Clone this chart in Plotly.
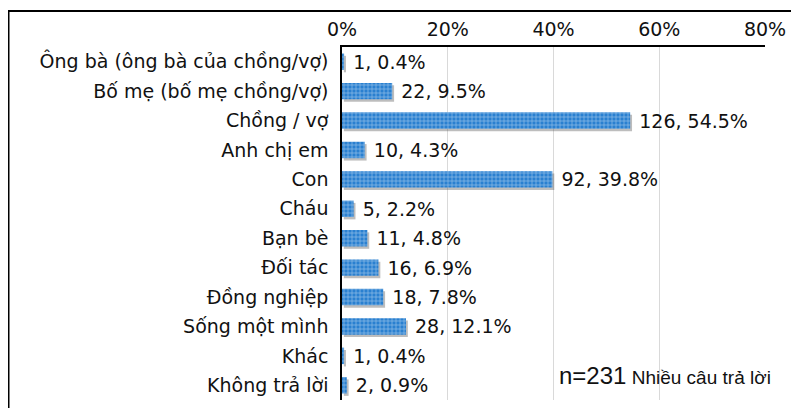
import plotly.graph_objects as go

categories = ["Ông bà (ông bà của chồng/vợ)", "Bố mẹ (bố mẹ chồng/vợ)", "Chồng / vợ",
              "Anh chị em", "Con", "Cháu", "Bạn bè", "Đối tác", "Đồng nghiệp",
              "Sống một mình", "Khác", "Không trả lời"]
counts = [1, 22, 126, 10, 92, 5, 11, 16, 18, 28, 1, 2]
percents = [0.4, 9.5, 54.5, 4.3, 39.8, 2.2, 4.8, 6.9, 7.8, 12.1, 0.4, 0.9]
tick_values = [0, 20, 40, 60, 80]
tick_labels = ["0%", "20%", "40%", "60%", "80%"]
note_n = "n=231"
note_text = "Nhiều câu trả lời"

labels = [f"\u00a0{c}, {p}%" for c, p in zip(counts, percents)]
FONT = "DejaVu Sans"
W = 0.56

# the page adds an 8px body margin, so the figure is 8px smaller and shifted
L, R, T, B = 334, 34, 39, 8
FW, FH = 791, 400
PW, PH = FW - L - R, FH - T - B

fig = go.Figure()
# drop shadow
fig.add_trace(go.Bar(
    y=categories, x=percents, base=0.35, orientation="h",
    width=W, offset=-W / 2 + 0.08,
    marker=dict(color="rgba(90,90,90,0.4)", line=dict(width=0)),
    hoverinfo="skip", showlegend=False,
))
fig.add_trace(go.Bar(
    y=categories, x=percents, orientation="h", width=W, offset=-W / 2,
    marker=dict(color="#2a80d0", line=dict(width=0),
                pattern=dict(shape="+", fgcolor="white", bgcolor="#2a80d0",
                             size=4, solidity=0.3)),
    text=labels, textposition="outside", cliponaxis=False, constraintext="none",
    textfont=dict(family=FONT, size=19, color="#111111"),
    showlegend=False,
))

fig.update_layout(
    width=FW, height=FH,
    margin=dict(l=L, r=R, t=T, b=B),
    paper_bgcolor="white", plot_bgcolor="white",
    barmode="overlay",
    font=dict(family=FONT, size=19, color="#111111"),
    xaxis=dict(side="top", range=[0, 80], tickvals=tick_values, ticktext=tick_labels,
               showgrid=True, gridcolor="#d9d9d9", gridwidth=1, zeroline=False,
               showline=True, linecolor="black", linewidth=1.5, ticks="",
               ticklabelstandoff=2,
               tickfont=dict(family=FONT, size=19, color="#111111")),
    yaxis=dict(autorange="reversed", showline=True, linecolor="black", linewidth=1.5,
               ticks="", showgrid=False, ticklabelstandoff=8,
               tickfont=dict(family=FONT, size=19, color="#111111")),
    shapes=[dict(type="rect", xref="paper", yref="paper",
                 x0=(0.5 - L) / PW, x1=1.2, y0=-0.2, y1=(PH + T - 3) / PH,
                 line=dict(color="black", width=2), layer="above")],
    annotations=[dict(xref="paper", yref="paper", x=(765 - L) / PW, y=(PH + T - 367) / PH,
                      xanchor="right", yanchor="middle", showarrow=False,
                      text=f"<span style='font-size:24px'>{note_n}</span> "
                           f"<span style='font-size:19px'>{note_text}</span>",
                      font=dict(family="Liberation Sans", size=19, color="#111111"))],
)

fig.write_html("out.html")
